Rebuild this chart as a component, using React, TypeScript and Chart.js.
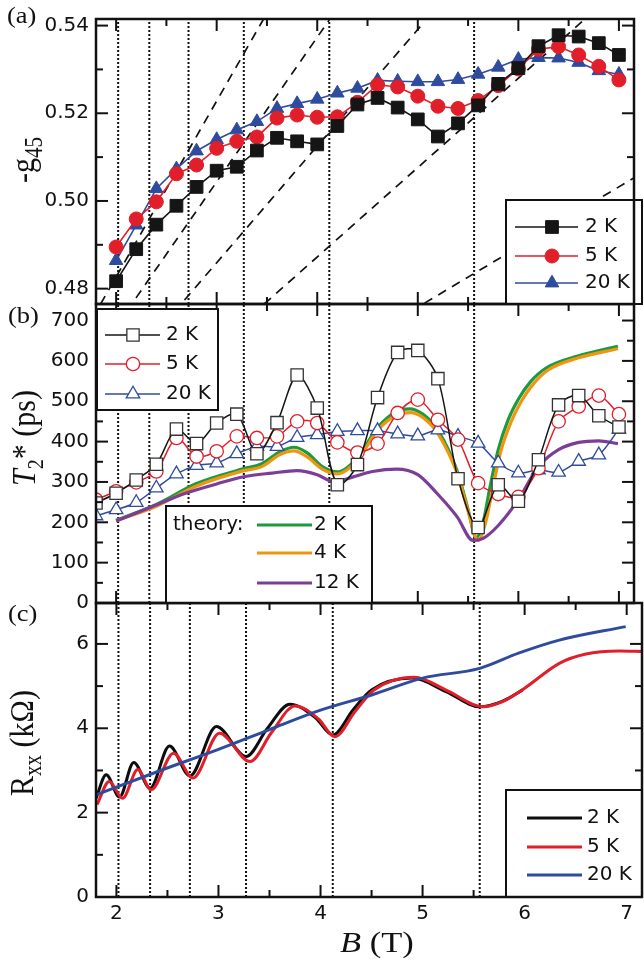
import React, { useEffect, useRef } from 'react';
import { Chart, registerables } from 'chart.js';

Chart.register(...registerables);

const SANS = '"DejaVu Sans", Arial, sans-serif';
const SERIF = '"Liberation Serif", "Times New Roman", serif';
const STRETCH = 1.15;
const INK = '#111111';

const COL_BLACK = '#151515';
const COL_RED = '#e11f2b';
const COL_BLUE = '#2f4b9e';
const COL_GREEN = '#1e9a3e';
const COL_ORANGE = '#f0950f';
const COL_PURPLE = '#7c3d99';

// ---------- shared B axis ----------
const B_MIN = 1.8;
const B_MAX = 7.15;
const bMajor = [2, 3, 4, 5, 6, 7];
const bMinor = [2.5, 3.5, 4.5, 5.5, 6.5];
const dottedB = [2.02, 2.33, 2.72, 3.27, 4.12, 5.56];
const tempLabels = ['2 K', '5 K', '20 K'];
const theoryLabels = ['2 K', '4 K', '12 K'];

// ---------- panel (a): -g45 ----------
const gMajor = [0.48, 0.5, 0.52, 0.54];
const gMinor = [0.49, 0.51, 0.53];
const gB = [2.0, 2.2, 2.4, 2.6, 2.8, 3.0, 3.2, 3.4, 3.6, 3.8, 4.0, 4.2, 4.4, 4.6, 4.8, 5.0, 5.2, 5.4, 5.6, 5.8, 6.0, 6.2, 6.4, 6.6, 6.8, 7.0];
const g2K = [0.4817, 0.489, 0.4946, 0.4989, 0.5032, 0.5069, 0.5078, 0.5115, 0.5144, 0.5136, 0.5129, 0.5171, 0.522, 0.5235, 0.5213, 0.5186, 0.5147, 0.5177, 0.5218, 0.5267, 0.5303, 0.5353, 0.5378, 0.5375, 0.536, 0.5333];
const g5K = [0.4895, 0.4959, 0.4998, 0.5062, 0.5082, 0.512, 0.5136, 0.5146, 0.5189, 0.5196, 0.5191, 0.5192, 0.5225, 0.5265, 0.526, 0.5239, 0.5216, 0.5211, 0.5229, 0.5263, 0.5301, 0.5346, 0.5352, 0.5333, 0.5307, 0.5276];
const g20K = [0.4864, 0.4945, 0.5028, 0.5073, 0.5114, 0.514, 0.5162, 0.5181, 0.5211, 0.5222, 0.5232, 0.5246, 0.5257, 0.5275, 0.5273, 0.5272, 0.5272, 0.5277, 0.5289, 0.5305, 0.5323, 0.5327, 0.5326, 0.5316, 0.5297, 0.5289];
// dashed guide lines (start B, start g, end B, end g)
const fanB0 = [1.846, 2.198, 2.68, 3.473, 5.067];
const fanG0 = [0.4765, 0.4779, 0.4774, 0.4765, 0.4767];
const fanB1 = [3.469, 4.12, 5.067, 6.663, 7.188];
const fanG1 = [0.5416, 0.5413, 0.5409, 0.5415, 0.5058];

// ---------- panel (b): T2* ----------
const tMajor = [0, 100, 200, 300, 400, 500, 600, 700];
const tMinor = [50, 150, 250, 350, 450, 550, 650];
const tB = [1.8, 2.0, 2.2, 2.4, 2.6, 2.8, 3.0, 3.2, 3.4, 3.6, 3.8, 4.0, 4.2, 4.4, 4.6, 4.8, 5.0, 5.2, 5.4, 5.6, 5.8, 6.0, 6.2, 6.4, 6.6, 6.8, 7.0];
const t2K = [248, 272, 305, 344, 431, 395, 446, 468, 370, 447, 565, 483, 293, 343, 509, 621, 626, 556, 308, 187, 293, 252, 355, 491, 514, 464, 436];
const t5K = [256, 277, 299, 326, 409, 363, 376, 413, 409, 413, 450, 446, 398, 373, 395, 471, 504, 454, 405, 297, 270, 263, 334, 450, 487, 514, 468];
const t20K = [216, 231, 249, 285, 320, 341, 347, 370, 388, 388, 410, 417, 425, 427, 427, 419, 414, 429, 413, 396, 347, 322, 330, 324, 351, 367, 431];
const thGreenB = [2.0, 2.4, 2.8, 3.27, 3.45, 3.63, 3.77, 3.9, 4.05, 4.2, 4.4, 4.6, 4.8, 4.92, 5.05, 5.2, 5.39, 5.5, 5.58, 5.65, 5.72, 5.8, 5.9, 6.0, 6.12, 6.28, 6.59, 6.99];
const thGreen = [205, 244, 296, 333, 345, 375, 386, 372, 338, 325, 360, 435, 476, 481, 468, 428, 328, 232, 162, 200, 290, 380, 455, 505, 548, 583, 612, 636];
const thOrangeB = [2.0, 2.4, 2.8, 3.27, 3.45, 3.63, 3.77, 3.9, 4.05, 4.2, 4.4, 4.6, 4.8, 4.93, 5.05, 5.2, 5.39, 5.5, 5.6, 5.67, 5.75, 5.83, 5.93, 6.03, 6.15, 6.3, 6.59, 6.99];
const thOrange = [204, 240, 290, 328, 338, 368, 377, 362, 332, 320, 354, 428, 467, 472, 460, 420, 322, 228, 155, 195, 290, 380, 450, 500, 543, 578, 607, 630];
const thPurpleB = [2.0, 2.35, 2.69, 3.0, 3.27, 3.55, 3.8, 4.0, 4.17, 4.35, 4.55, 4.79, 5.0, 5.19, 5.39, 5.55, 5.65, 5.8, 6.0, 6.2, 6.4, 6.6, 6.8, 6.99];
const thPurple = [203, 238, 272, 295, 313, 322, 328, 318, 300, 312, 326, 332, 318, 272, 214, 155, 160, 192, 256, 338, 380, 398, 402, 395];

// ---------- panel (c): Rxx ----------
const rMajor = [0, 2, 4, 6];
const rMinor = [1, 3, 5];
const rB2K = [1.8, 1.9, 2.03, 2.17, 2.33, 2.52, 2.72, 2.98, 3.27, 3.48, 3.7, 3.95, 4.12, 4.32, 4.5, 4.9, 5.23, 5.56, 5.78, 5.98];
const r2K = [2.34, 2.9, 2.37, 3.19, 2.58, 3.58, 2.87, 4.04, 3.33, 4.0, 4.57, 4.25, 3.84, 4.44, 4.91, 5.19, 4.87, 4.51, 4.64, 4.91];
const rB5K = [1.81, 1.93, 2.06, 2.21, 2.34, 2.56, 2.75, 3.01, 3.31, 3.52, 3.75, 3.98, 4.14, 4.34, 4.52, 4.92, 5.25, 5.59, 5.8, 6.0, 6.34, 6.6, 6.93, 7.15];
const r5K = [2.19, 2.74, 2.34, 3.02, 2.54, 3.41, 2.82, 3.88, 3.21, 3.9, 4.53, 4.22, 3.8, 4.4, 4.9, 5.21, 4.88, 4.51, 4.65, 4.95, 5.54, 5.76, 5.83, 5.82];
const rB20K = [1.8, 2.4, 3.0, 3.5, 4.0, 4.5, 5.0, 5.56, 5.94, 6.34, 6.99];
const r20K = [2.42, 2.97, 3.5, 3.97, 4.43, 4.79, 5.19, 5.42, 5.78, 6.09, 6.41];

// ---------- helpers ----------
const pts = (xs: number[], ys: number[]) => xs.map((x, i) => ({ x, y: ys[i] }));

function marker(ctx: CanvasRenderingContext2D, style: string, x: number, y: number, r: number, fill: string, stroke: string, lw: number) {
  ctx.beginPath();
  if (style === 'rect') {
    const s = r * Math.SQRT1_2;
    ctx.rect(x - s, y - s, 2 * s, 2 * s);
  } else if (style === 'circle') {
    ctx.arc(x, y, r, 0, Math.PI * 2);
  } else {
    for (let k = 0; k < 3; k++) {
      const ang = (k * 2 * Math.PI) / 3;
      const px = x + Math.sin(ang) * r;
      const py = y - Math.cos(ang) * r;
      if (k === 0) ctx.moveTo(px, py); else ctx.lineTo(px, py);
    }
    ctx.closePath();
  }
  ctx.fillStyle = fill;
  ctx.fill();
  if (lw > 0) {
    ctx.lineWidth = lw;
    ctx.strokeStyle = stroke;
    ctx.stroke();
  }
}

function seg(ctx: CanvasRenderingContext2D, x1: number, y1: number, x2: number, y2: number, color: string, lw: number) {
  ctx.beginPath();
  ctx.moveTo(x1, y1);
  ctx.lineTo(x2, y2);
  ctx.strokeStyle = color;
  ctx.lineWidth = lw;
  ctx.stroke();
}

function box(ctx: CanvasRenderingContext2D, x: number, y: number, w: number, h: number) {
  ctx.fillStyle = '#ffffff';
  ctx.fillRect(x, y, w, h);
  ctx.strokeStyle = INK;
  ctx.lineWidth = 2;
  ctx.strokeRect(x, y, w, h);
}

function label(ctx: CanvasRenderingContext2D, t: string, x: number, y: number) {
  ctx.font = `20px ${SANS}`;
  ctx.fillStyle = INK;
  ctx.textAlign = 'left';
  ctx.textBaseline = 'middle';
  ctx.fillText(t, x, y);
}

type Part = { t: string; font: string; dy?: number };
function rich(ctx: CanvasRenderingContext2D, parts: Part[], x: number, y: number, rotate: boolean, center: boolean) {
  ctx.save();
  ctx.translate(x, y);
  ctx.scale(STRETCH, 1);
  if (rotate) ctx.rotate(-Math.PI / 2);
  ctx.textBaseline = 'alphabetic';
  ctx.textAlign = 'left';
  ctx.fillStyle = INK;
  let w = 0;
  parts.forEach((p) => { ctx.font = p.font; w += ctx.measureText(p.t).width; });
  let cx = center ? -w / 2 : 0;
  parts.forEach((p) => {
    ctx.font = p.font;
    ctx.fillText(p.t, cx, p.dy || 0);
    cx += ctx.measureText(p.t).width;
  });
  ctx.restore();
}

function panelPlugin(id: string, yMajor: number[], yMinor: number[], legend: (ctx: CanvasRenderingContext2D) => void, texts: (ctx: CanvasRenderingContext2D) => void) {
  return {
    id,
    afterDatasetsDraw(chart: any) {
      const { ctx, chartArea: a } = chart;
      const sx = chart.scales.x;
      const sy = chart.scales.y;
      ctx.save();
      ctx.setLineDash([]);
      bMajor.forEach((v) => {
        const p = sx.getPixelForValue(v);
        seg(ctx, p, a.top, p, a.top + 12, INK, 2);
        seg(ctx, p, a.bottom, p, a.bottom - 12, INK, 2);
      });
      bMinor.forEach((v) => {
        const p = sx.getPixelForValue(v);
        seg(ctx, p, a.top, p, a.top + 7, INK, 2);
        seg(ctx, p, a.bottom, p, a.bottom - 7, INK, 2);
      });
      yMajor.forEach((v) => {
        const p = sy.getPixelForValue(v);
        seg(ctx, a.left, p, a.left + 12, p, INK, 2);
        seg(ctx, a.right, p, a.right - 12, p, INK, 2);
      });
      yMinor.forEach((v) => {
        const p = sy.getPixelForValue(v);
        seg(ctx, a.left, p, a.left + 7, p, INK, 2);
        seg(ctx, a.right, p, a.right - 7, p, INK, 2);
      });
      legend(ctx);
      ctx.strokeStyle = INK;
      ctx.lineWidth = 2.5;
      ctx.strokeRect(a.left, a.top, a.right - a.left, a.bottom - a.top);
      ctx.restore();
    },
    afterDraw(chart: any) {
      const ctx = chart.ctx;
      ctx.save();
      texts(ctx);
      ctx.restore();
    },
  };
}

function xScale(show: boolean) {
  return {
    type: 'linear',
    min: B_MIN,
    max: B_MAX,
    display: show,
    grid: { display: false, drawTicks: false },
    border: { display: false },
    afterBuildTicks: (s: any) => { s.ticks = bMajor.map((v) => ({ value: v })); },
    afterFit: (s: any) => { s.height = show ? 63 : 0; },
    ticks: { font: { family: SANS, size: 20 }, color: INK, padding: 5, maxRotation: 0, autoSkip: false, callback: (v: any) => String(v) },
  };
}

function yScale(min: number, max: number, major: number[], fmt: (v: number) => string) {
  return {
    type: 'linear',
    min,
    max,
    position: 'left',
    grid: { display: false, drawTicks: false },
    border: { display: false },
    afterFit: (s: any) => { s.width = 96; },
    afterBuildTicks: (s: any) => { s.ticks = major.map((v) => ({ value: v })); },
    ticks: { font: { family: SANS, size: 20 }, color: INK, padding: 7, autoSkip: false, callback: (v: any) => fmt(Number(v)) },
  };
}

function baseOptions(padding: any, x: any, y: any) {
  return {
    responsive: false,
    maintainAspectRatio: false,
    animation: false,
    events: [],
    layout: { padding },
    plugins: { legend: { display: false }, tooltip: { enabled: false } },
    scales: { x, y },
  };
}

function dottedSets(yMin: number, yMax: number) {
  return dottedB.map((b) => ({
    data: [{ x: b, y: yMin }, { x: b, y: yMax }],
    borderColor: INK,
    borderWidth: 2,
    borderDash: [2, 2],
    pointRadius: 0,
    order: 20,
  }));
}

// ---------- panel configs ----------
const G_MIN = 0.4765, G_MAX = 0.5415;
function configA(): any {
  const fan = fanB0.map((b, i) => ({
    data: [{ x: b, y: fanG0[i] }, { x: fanB1[i], y: fanG1[i] }],
    borderColor: INK,
    borderWidth: 1.7,
    borderDash: [9, 7],
    pointRadius: 0,
    order: 21,
  }));
  const series = [
    { data: pts(gB, g2K), borderColor: COL_BLACK, backgroundColor: COL_BLACK, pointStyle: 'rect', pointRadius: 9, order: 1 },
    { data: pts(gB, g5K), borderColor: COL_RED, backgroundColor: COL_RED, pointStyle: 'circle', pointRadius: 7, order: 2 },
    { data: pts(gB, g20K), borderColor: COL_BLUE, backgroundColor: COL_BLUE, pointStyle: 'triangle', pointRadius: 7.8, order: 3 },
  ].map((s) => ({ ...s, borderWidth: 1.6, pointBorderWidth: 1, tension: 0 }));
  const legendStyles = [
    { c: COL_BLACK, s: 'rect', r: 9 },
    { c: COL_RED, s: 'circle', r: 7 },
    { c: COL_BLUE, s: 'triangle', r: 7.8 },
  ];
  const legend = (ctx: CanvasRenderingContext2D) => {
    box(ctx, 506, 200, 136, 104);
    const rows = [227, 256, 283];
    legendStyles.forEach((st, i) => {
      seg(ctx, 515, rows[i], 578, rows[i], st.c, 1.6);
      marker(ctx, st.s, 552, rows[i], st.r, st.c, st.c, 1);
      label(ctx, tempLabels[i], 585, rows[i]);
    });
  };
  const texts = (ctx: CanvasRenderingContext2D) => {
    rich(ctx, [{ t: '(a)', font: `23px ${SERIF}` }], 7, 23, false, false);
    rich(ctx, [{ t: '-g', font: `30px ${SERIF}` }, { t: '45', font: `21px ${SERIF}`, dy: 7 }], 34, 160, true, true);
  };
  return {
    type: 'line',
    data: { datasets: [...series, ...fan, ...dottedSets(G_MIN, G_MAX)] },
    options: baseOptions({ top: 14, bottom: 656, left: 0, right: 2 }, xScale(false), yScale(G_MIN, G_MAX, gMajor, (v) => v.toFixed(2))),
    plugins: [panelPlugin('panelA', gMajor, gMinor, legend, texts)],
  };
}

const T_MIN = 0, T_MAX = 741;
function configB(): any {
  const dataSets = [
    { data: pts(tB, t2K), borderColor: COL_BLACK, pointBorderColor: '#333333', pointStyle: 'rect', pointRadius: 8.7, order: 1 },
    { data: pts(tB, t5K), borderColor: COL_RED, pointBorderColor: COL_RED, pointStyle: 'circle', pointRadius: 6.7, order: 2 },
    { data: pts(tB, t20K), borderColor: COL_BLUE, pointBorderColor: COL_BLUE, pointStyle: 'triangle', pointRadius: 7.8, order: 3 },
  ].map((s) => ({ ...s, borderWidth: 1.5, pointBorderWidth: 1.3, pointBackgroundColor: '#ffffff', tension: 0.3 }));
  const theory = [
    { data: pts(thGreenB, thGreen), borderColor: COL_GREEN, order: 6 },
    { data: pts(thOrangeB, thOrange), borderColor: COL_ORANGE, order: 5 },
    { data: pts(thPurpleB, thPurple), borderColor: COL_PURPLE, order: 4 },
  ].map((s) => ({ ...s, borderWidth: 3.2, pointRadius: 0, cubicInterpolationMode: 'monotone' }));
  const legendStyles = [
    { c: COL_BLACK, b: '#333333', s: 'rect', r: 8.7 },
    { c: COL_RED, b: COL_RED, s: 'circle', r: 6.7 },
    { c: COL_BLUE, b: COL_BLUE, s: 'triangle', r: 7.8 },
  ];
  const theoryCols = [COL_GREEN, COL_ORANGE, COL_PURPLE];
  const legend = (ctx: CanvasRenderingContext2D) => {
    box(ctx, 97, 309, 121, 101);
    const rows = [335, 364, 394];
    legendStyles.forEach((st, i) => {
      seg(ctx, 105, rows[i], 160, rows[i], st.c, 1.5);
      marker(ctx, st.s, 133, rows[i], st.r, '#ffffff', st.b, 1.3);
      label(ctx, tempLabels[i], 166, rows[i]);
    });
    box(ctx, 166, 506, 206, 97);
    const rows2 = [525, 553, 583];
    label(ctx, 'theory:', 173, rows2[0]);
    theoryCols.forEach((c, i) => {
      seg(ctx, 257, rows2[i], 312, rows2[i], c, 3.2);
      label(ctx, theoryLabels[i], 314, rows2[i]);
    });
  };
  const texts = (ctx: CanvasRenderingContext2D) => {
    rich(ctx, [{ t: '(b)', font: `23px ${SERIF}` }], 8, 323, false, false);
    rich(ctx, [
      { t: 'T', font: `italic 30px ${SERIF}` },
      { t: '2', font: `20px ${SERIF}`, dy: 7 },
      { t: '*', font: `30px ${SERIF}` },
      { t: ' (ps)', font: `30px ${SERIF}` },
    ], 35, 438, true, true);
  };
  return {
    type: 'line',
    data: { datasets: [...dataSets, ...theory, ...dottedSets(T_MIN, T_MAX)] },
    options: baseOptions({ top: 304, bottom: 357, left: 0, right: 2 }, xScale(false), yScale(T_MIN, T_MAX, tMajor, (v) => String(v))),
    plugins: [panelPlugin('panelB', tMajor, tMinor, legend, texts)],
  };
}

const R_MIN = 0, R_MAX = 6.97;
function configC(): any {
  const curves = [
    { data: pts(rB2K, r2K), borderColor: '#0d0d0d', order: 3 },
    { data: pts(rB5K, r5K), borderColor: COL_RED, order: 2 },
    { data: pts(rB20K, r20K), borderColor: COL_BLUE, order: 1 },
  ].map((s) => ({ ...s, borderWidth: 3, pointRadius: 0, cubicInterpolationMode: 'monotone' }));
  const cols = ['#0d0d0d', COL_RED, COL_BLUE];
  const legend = (ctx: CanvasRenderingContext2D) => {
    box(ctx, 506, 790, 136, 107);
    const rows = [818, 847, 875];
    cols.forEach((c, i) => {
      seg(ctx, 527, rows[i], 582, rows[i], c, 3);
      label(ctx, tempLabels[i], 587, rows[i]);
    });
  };
  const texts = (ctx: CanvasRenderingContext2D) => {
    rich(ctx, [{ t: '(c)', font: `23px ${SERIF}` }], 8, 621, false, false);
    rich(ctx, [
      { t: 'R', font: `30px ${SERIF}` },
      { t: 'xx', font: `21px ${SERIF}`, dy: 7 },
      { t: ' (k\u03A9)', font: `30px ${SERIF}` },
    ], 33, 743, true, true);
    rich(ctx, [
      { t: 'B', font: `italic 30px ${SERIF}` },
      { t: ' (T)', font: `30px ${SERIF}` },
    ], 340, 952, false, false);
  };
  return {
    type: 'line',
    data: { datasets: [...curves, ...dottedSets(R_MIN, R_MAX)] },
    options: baseOptions({ top: 603, bottom: 0, left: 0, right: 2 }, xScale(true), yScale(R_MIN, R_MAX, rMajor, (v) => String(v))),
    plugins: [panelPlugin('panelC', rMajor, rMinor, legend, texts)],
  };
}

export default function App() {
  const refA = useRef<HTMLCanvasElement>(null);
  const refB = useRef<HTMLCanvasElement>(null);
  const refC = useRef<HTMLCanvasElement>(null);

  useEffect(() => {
    const charts = [
      new Chart(refA.current as HTMLCanvasElement, configA()),
      new Chart(refB.current as HTMLCanvasElement, configB()),
      new Chart(refC.current as HTMLCanvasElement, configC()),
    ];
    return () => charts.forEach((c) => c.destroy());
  }, []);

  const cs: React.CSSProperties = { position: 'absolute', left: 0, top: 0, width: 644, height: 960 };
  return (
    <div style={{ position: 'absolute', left: 0, top: 0, width: 644, height: 960, background: '#ffffff', overflow: 'hidden' }}>
      <canvas ref={refC} width={644} height={960} style={cs} />
      <canvas ref={refB} width={644} height={960} style={cs} />
      <canvas ref={refA} width={644} height={960} style={cs} />
    </div>
  );
}
